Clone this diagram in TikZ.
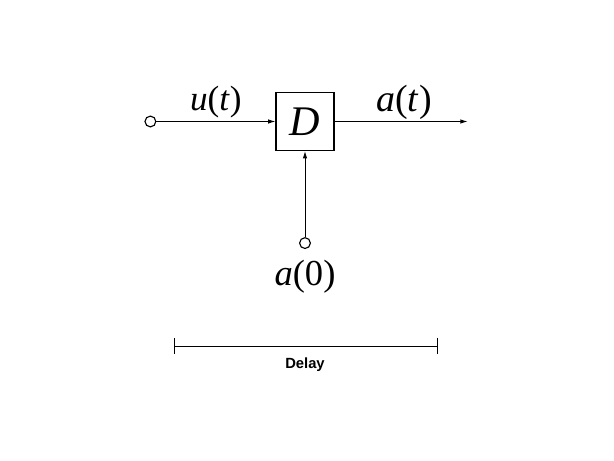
\documentclass[tikz,border=0pt]{standalone}
\usepackage{fontspec}
\setmainfont{Liberation Serif}
\newfontfamily\labelfont{Liberation Sans}
\usetikzlibrary{arrows.meta,positioning}
\newcommand{\sv}[1]{\textit{#1}}

\begin{document}
\begin{tikzpicture}[>={Latex[length=1.8mm,width=1.1mm]},
  blk/.style={draw, line width=0.9pt, minimum size=1.45cm, inner sep=0pt,
    font=\fontsize{30}{32}\selectfont},
  port/.style={draw, circle, line width=0.8pt, minimum size=0.27cm, inner sep=0pt},
  sig/.style={inner sep=0pt},
  arr/.style={->, line width=0.6pt}]
  \useasboundingbox (-7.625,3.0375) rectangle (7.725,-8.4875);
  \node[blk] (dly) at (0,0) {\sv{D}};
  \node[port, left=2.975cm of dly] (in) {};
  \coordinate[right=3.325cm of dly] (out);
  \node[port, below=2.15cm of dly] (init) {};
  \node[sig, below=0.28cm of init, font=\fontsize{26}{28}\selectfont] (a0) {\sv{a}(0)};
  \draw[arr] (in) -- node[sig, above=0.07cm, font=\fontsize{25}{28}\selectfont] (ut) {\sv{u}(\sv{t})} (dly);
  \draw[arr] (dly) -- node[sig, above=0.03cm, xshift=2pt, font=\fontsize{27}{30}\selectfont] (at) {\sv{a}(\sv{t})} (out);
  \draw[arr] (init) -- (dly);
  % time axis
  \coordinate (tl) at (-3.275,-5.6125);
  \coordinate (tr) at (3.325,-5.6125);
  \draw[{Bar[width=0.4cm]}-{Bar[width=0.4cm]}, line width=0.6pt] (tl) -- (tr);
  \node[font=\labelfont\bfseries\fontsize{10.5}{12}\selectfont] (tlbl) at (0,-6.09) {Delay};
\end{tikzpicture}
\end{document}
